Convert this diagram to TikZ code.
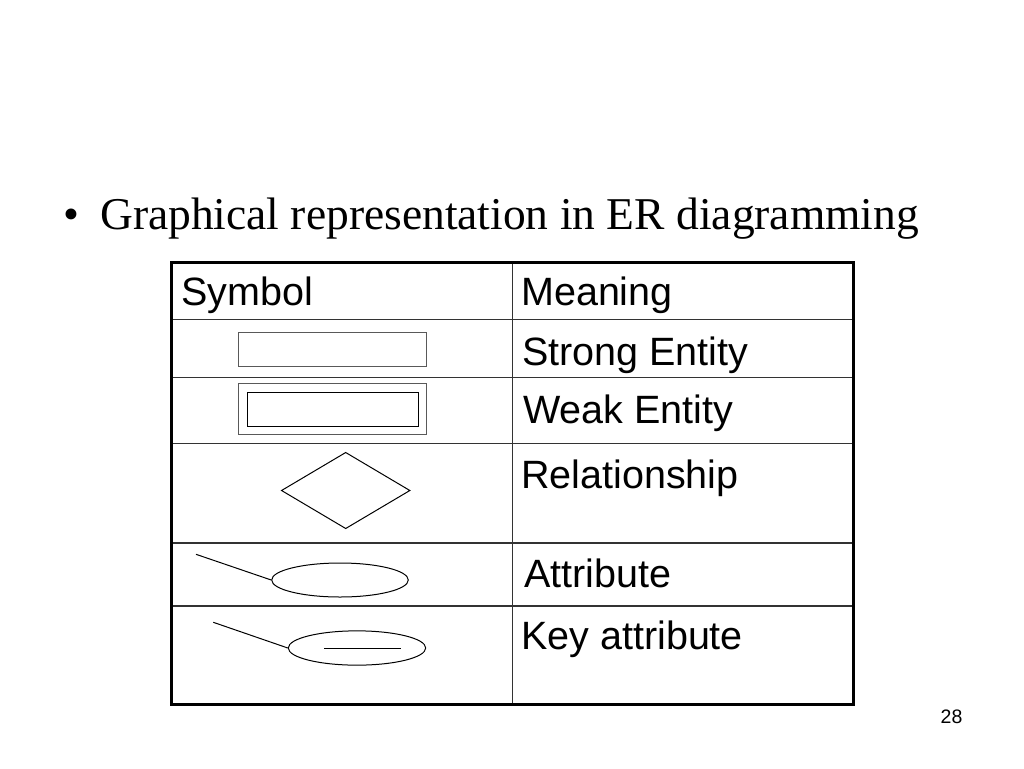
\documentclass[tikz,border=0pt]{standalone}
\usepackage{fontspec}
\setmainfont{Liberation Serif}
\setsansfont{Liberation Sans}
\usetikzlibrary{shapes.geometric}

\begin{document}
\begin{tikzpicture}[x=1pt, y=-1pt,
    heading/.style ={anchor=base west, inner sep=0pt, font=\fontsize{45.5}{54}\selectfont},
    cell/.style ={anchor=base west, inner sep=0pt, font=\sffamily\fontsize{39.5}{47}\selectfont},
    gridline/.style ={line width=1.3pt, black!80},
    entity/.style ={rectangle, draw=black!65, line width=1pt, inner sep=0pt},
    relation/.style ={diamond, draw, line width=1pt, inner sep=0pt},
    attribute/.style ={ellipse, draw, line width=1pt, inner sep=0pt}]
   \useasboundingbox (0,0) rectangle (1024,768);

   \node[heading] (dot)  at (63,229)  {•};
   \node[heading] (title)  at (100,229)  {Graphical representation in ER diagramming};

   % table
   \draw[gridline] (171,319.5) to (853,319.5);
   \draw[gridline] (171,377.5) to (853,377.5);
   \draw[gridline] (171,443.5) to (853,443.5);
   \draw[gridline] (171,543) to (853,543);
   \draw[gridline] (171,606) to (853,606);
   \draw[gridline] (512.3,262) to (512.3,704);
   \draw[line width=3pt] (171,262) rectangle (853,704);

   \node[cell] (symbol)  at (181,305)  {Symbol};
   \node[cell] (meaning)  at (521,305)  {Meaning};
   \node[cell] (strongtext)  at (522,365)  {Strong Entity};
   \node[cell] (weaktext)  at (523,423)  {Weak Entity};
   \node[cell] (reltext)  at (521,488)  {Relationship};
   \node[cell] (attrtext)  at (524,587)  {Attribute};
   \node[cell] (keytext)  at (521,649)  {Key attribute};

   % symbols
   \node[entity, minimum width=188pt, minimum height=34.4pt] (strong)  at (332.7,349.5)  {};
   \node[entity, minimum width=188pt, minimum height=51.3pt] (weak)  at (332.7,409.3)  {};
   \node[entity, draw=black, minimum width=171.4pt, minimum height=34pt] (weakinner)  at (333,409.3)  {};
   \node[relation, minimum width=128.7pt, minimum height=76.4pt] (rel)  at (345.7,490.5)  {};
   \node[attribute, minimum width=136.6pt, minimum height=34pt] (attr)  at (340,580)  {};
   \node[attribute, minimum width=137.4pt, minimum height=34.3pt] (key)  at (357,648)  {};

   \coordinate (attrend) at (196,554.3);
   \coordinate (keyend) at (213.3,622.3);
   \draw[line width=1pt] (attrend) to  (attr.west);
   \draw[line width=1pt] (keyend) to  (key.west);
   \draw[line width=1pt] (324,648.3) to  (401,648.3);

   \node[cell, font=\sffamily\fontsize{19.5}{23}\selectfont] (page)  at (940.5,723.5)  {28};
 \end{tikzpicture}
\end{document}
